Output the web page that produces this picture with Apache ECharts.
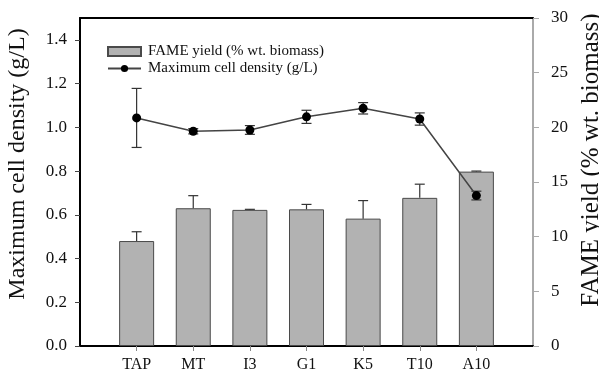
<!DOCTYPE html>
<html><head><meta charset="utf-8">
<script src="https://cdn.jsdelivr.net/npm/echarts@6/dist/echarts.min.js"></script>
<style>html,body{margin:0;padding:0;background:#fff}#c{width:599px;height:378px}</style>
</head><body><div id="c"></div>
<script>
const categories = ['TAP', 'MT', 'I3', 'G1', 'K5', 'T10', 'A10'];
const fameYield = [9.6, 12.6, 12.45, 12.5, 11.65, 13.55, 15.95];
const fameErr = [0.85, 1.15, 0.05, 0.45, 1.65, 1.25, 0.05];
const cellDensity = [1.043, 0.982, 0.988, 1.048, 1.087, 1.038, 0.688];
const cellErr = [0.135, 0.012, 0.02, 0.03, 0.026, 0.028, 0.02];
const leftTicks = [0, 0.2, 0.4, 0.6, 0.8, 1.0, 1.2, 1.4];
const rightTicks = [0, 5, 10, 15, 20, 25, 30];

const FONT = 'Liberation Serif';
const padCats = [''].concat(categories, ['']);
const pad = arr => ['-'].concat(arr, ['-']);
const fameErrData = categories.map((c, i) => [i + 1, fameYield[i] + fameErr[i], fameYield[i]]);
const cellErrData = categories.map((c, i) => [i + 1, cellDensity[i] + cellErr[i], cellDensity[i] - cellErr[i]]);

function errItem(capHalf, bothEnds) {
  return function (params, api) {
    const x = api.value(0);
    const top = api.coord([x, api.value(1)]);
    const bot = api.coord([x, api.value(2)]);
    const st = { stroke: '#333', lineWidth: 1.2 };
    const children = [
      { type: 'line', shape: { x1: top[0], y1: top[1], x2: bot[0], y2: bot[1] }, style: st },
      { type: 'line', shape: { x1: top[0] - capHalf, y1: top[1], x2: top[0] + capHalf, y2: top[1] }, style: st }
    ];
    if (bothEnds) children.push({ type: 'line', shape: { x1: bot[0] - capHalf, y1: bot[1], x2: bot[0] + capHalf, y2: bot[1] }, style: st });
    return { type: 'group', children };
  };
}

const chart = echarts.init(document.getElementById('c'), null, { renderer: 'canvas' });
chart.setOption({
  animation: false,
  backgroundColor: '#fff',
  textStyle: { fontFamily: FONT },
  grid: { left: 80, right: 66, top: 18, bottom: 32, outerBoundsMode: 'none', containLabel: false },
  legend: {
    orient: 'vertical', left: 102, top: 39, itemWidth: 33, itemHeight: 9, itemGap: 2,
    textStyle: { fontFamily: FONT, fontSize: 15, color: '#111', padding: [0, 0, 0, 2] },
    data: [
      { name: 'FAME yield (% wt. biomass)', icon: 'rect' },
      { name: 'Maximum cell density (g/L)' }
    ]
  },
  xAxis: [{
    type: 'category', data: padCats, boundaryGap: false,
    axisLine: { onZero: false, lineStyle: { color: '#000', width: 2 } },
    axisTick: { show: true, length: 5, interval: (i) => i > 0 && i < padCats.length - 1, lineStyle: { color: '#888' } },
    axisLabel: { interval: 0, fontSize: 16, color: '#111', fontFamily: FONT, margin: 11 },
    splitLine: { show: false }
  }, {
    type: 'category', data: padCats, boundaryGap: false, position: 'top',
    axisLine: { show: true, onZero: false, lineStyle: { color: '#000', width: 2 } },
    axisTick: { show: false }, axisLabel: { show: false }, splitLine: { show: false }
  }],
  yAxis: [{
    type: 'value', min: 0, max: 1.5, position: 'left',
    name: 'Maximum cell density (g/L)', nameLocation: 'middle', nameGap: 50, nameRotate: 90,
    nameTextStyle: { fontFamily: FONT, fontSize: 24, color: '#111', padding: [0, 0, 0, 36] },
    axisLine: { show: true, onZero: false, lineStyle: { color: '#000', width: 2 } },
    axisTick: { show: true, length: 5, customValues: leftTicks, lineStyle: { color: '#444' } },
    axisLabel: { customValues: leftTicks, fontSize: 17, color: '#111', fontFamily: FONT, margin: 13, formatter: v => v.toFixed(1) },
    splitLine: { show: false }
  }, {
    type: 'value', min: 0, max: 30, interval: 5, position: 'right',
    name: 'FAME yield (% wt. biomass)', nameLocation: 'middle', nameGap: 41, nameRotate: 90,
    nameTextStyle: { fontFamily: FONT, fontSize: 25, color: '#111', padding: [0, 0, 0, 44] },
    axisLine: { show: true, onZero: false, lineStyle: { color: '#aaa', width: 2 } },
    axisTick: { show: true, length: 6, lineStyle: { color: '#aaa' } },
    axisLabel: { fontSize: 17, color: '#111', fontFamily: FONT, margin: 18 },
    splitLine: { show: false }
  }],
  series: [{
    name: 'FAME yield (% wt. biomass)', type: 'bar', yAxisIndex: 1, barWidth: 35,
    data: pad(fameYield),
    itemStyle: { color: '#b2b2b2', borderColor: '#4a4a4a', borderWidth: 1 }, z: 2
  }, {
    type: 'custom', yAxisIndex: 1, renderItem: errItem(5, false), data: fameErrData,
    encode: { x: 0, y: [1, 2] }, z: 3, silent: true
  }, {
    name: 'Maximum cell density (g/L)', type: 'line', yAxisIndex: 0,
    data: pad(cellDensity), connectNulls: false,
    symbol: 'circle', symbolSize: 9,
    itemStyle: { color: '#000' }, lineStyle: { color: '#444', width: 1.5 }, z: 5
  }, {
    type: 'custom', yAxisIndex: 0, renderItem: errItem(5, true), data: cellErrData,
    encode: { x: 0, y: [1, 2] }, z: 4, silent: true
  }]
});
</script></body></html>
